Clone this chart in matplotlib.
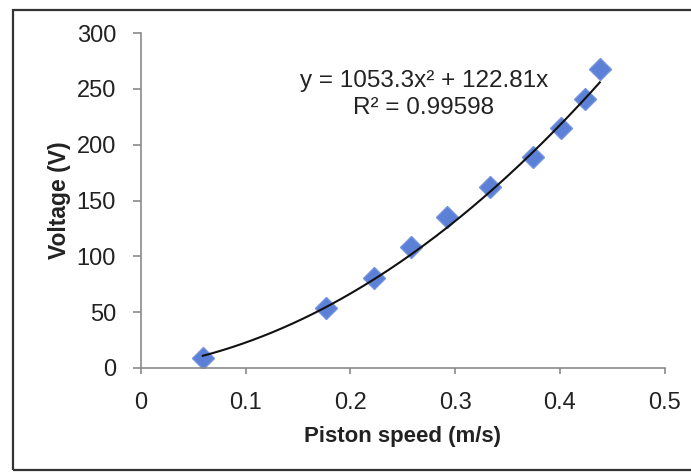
import numpy as np
import matplotlib
matplotlib.use('Agg')
import matplotlib.pyplot as plt
from matplotlib.patches import Rectangle

# data
speed = [0.059, 0.177, 0.222, 0.258, 0.292, 0.333, 0.374, 0.401, 0.4235, 0.438]
voltage = [9.0, 53.7, 80.6, 108.4, 135.2, 161.8, 188.7, 214.9, 241.2, 267.8]
# trendline coefficients (y = a x^2 + b x)
a_coef = 1053.3
b_coef = 122.81
r2 = 0.99598

xticks = [0, 0.1, 0.2, 0.3, 0.4, 0.5]
yticks = [0, 50, 100, 150, 200, 250, 300]

plt.rcParams['font.family'] = ['Liberation Sans', 'DejaVu Sans']

fig = plt.figure(figsize=(6.91, 4.73), dpi=100)
ax = fig.add_axes([0.204, 0.222, 0.758, 0.708])

# outer chart border
fig.patches.append(Rectangle((0.019, 0.006), 1.2, 0.972, transform=fig.transFigure,
                             fill=False, edgecolor='#333333', lw=1.6))

ax.plot(speed, voltage, linestyle='none', marker='D', markersize=11,
        color='#5b80d6', markeredgecolor='#7393e0', zorder=2)

xs = np.linspace(min(speed), max(speed), 200)
ax.plot(xs, a_coef * xs**2 + b_coef * xs, color='#111111', lw=1.5, zorder=3)

ax.text(0.27, 257, 'y = %.1fx² + %.2fx' % (a_coef, b_coef), ha='center', va='center',
        fontsize=17.5, color='#222222')
ax.text(0.27, 233, 'R² = %.5f' % r2, ha='center', va='center', fontsize=17.5, color='#222222')

ax.set_xlim(0, 0.5)
ax.set_ylim(0, 300)
ax.set_xticks(xticks)
ax.set_xticklabels([('%g' % t) for t in xticks])
ax.set_yticks(yticks)

for s in ['top', 'right']:
    ax.spines[s].set_visible(False)
for s in ['left', 'bottom']:
    ax.spines[s].set_color('#8a8a8a')
    ax.spines[s].set_linewidth(1.2)
ax.tick_params(colors='#8a8a8a', width=1.2, labelsize=17, labelcolor='#222222')
ax.tick_params(axis='x', length=4, pad=13)
ax.tick_params(axis='y', length=6, pad=12)

ax.set_xlabel('Piston speed (m/s)', fontsize=16, fontweight='bold', color='#222222', labelpad=9)
ax.set_ylabel('Voltage (V)', fontsize=16.5, fontweight='bold', color='#222222', labelpad=4)

fig.savefig('out.png', dpi=100)
